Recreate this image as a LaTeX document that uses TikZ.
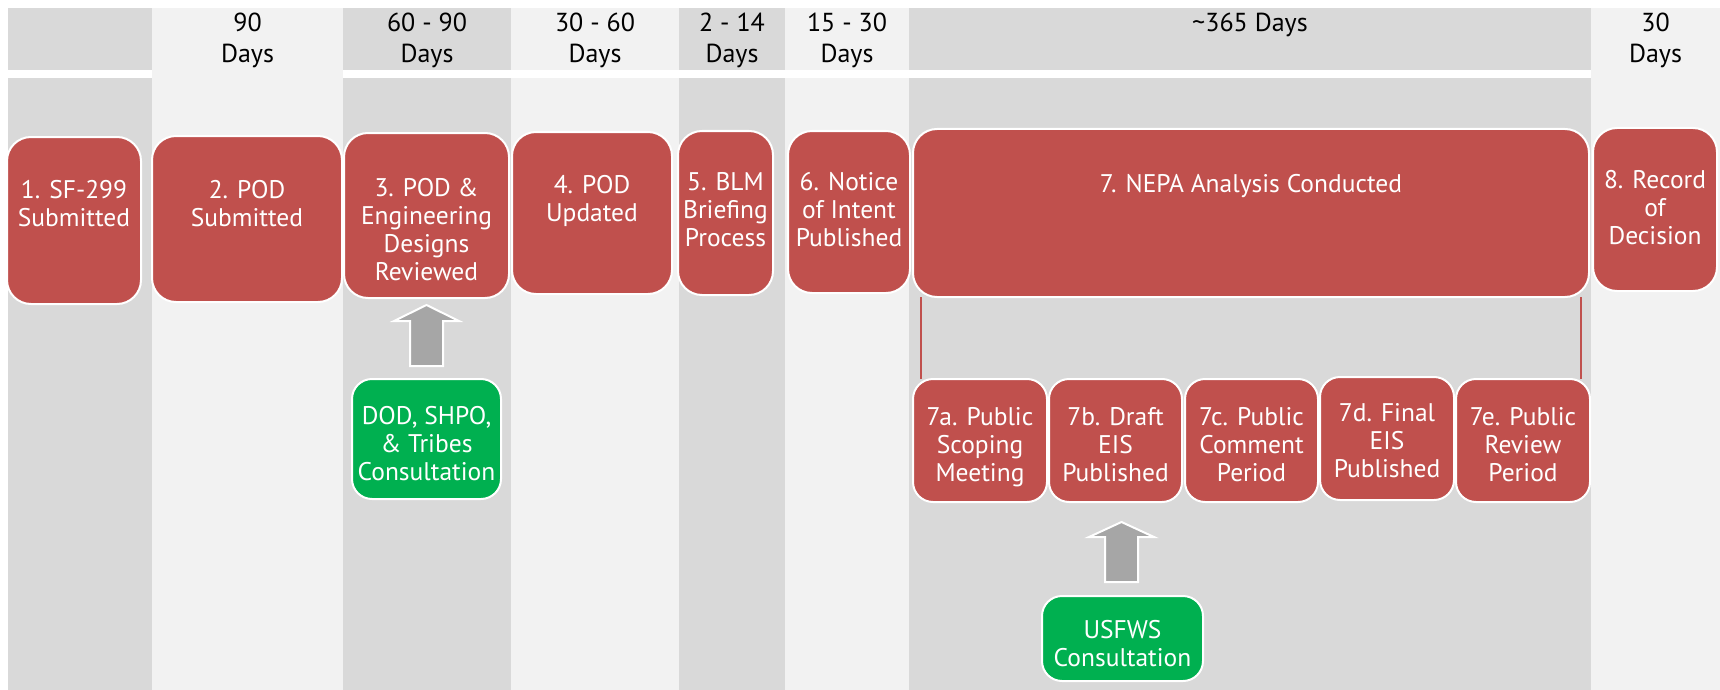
\documentclass[tikz,border=0pt]{standalone}
\usepackage{fontspec}
\setmainfont{PT Sans}
\usetikzlibrary{calc}
\definecolor{cdark}{HTML}{D9D9D9}
\definecolor{clight}{HTML}{F2F2F2}
\definecolor{cred}{HTML}{C0504D}
\definecolor{cgreen}{HTML}{00B050}
\definecolor{carrow}{HTML}{A6A6A6}
% width, height, top pad, text
\newcommand\tbx[4]{\parbox[c][#2pt][t]{#1pt}{\centering\vspace*{#3pt}\strut #4}}
\tikzset{
  rbox/.style={draw=white, line width=2pt, fill=cred, rounded corners=24pt, text=white,
    inner sep=0pt, outer sep=0pt, font=\fontsize{25.5}{28}\selectfont},
  sbox/.style={rbox, rounded corners=20pt},
  gbox/.style={rbox, fill=cgreen, rounded corners=20pt},
  hdr/.style={inner sep=0pt, text=black, font=\fontsize{26}{31}\selectfont},
  link/.style={draw=cred, line width=1.5pt},
  barrow/.style={fill=carrow, draw=white, line width=2pt, line join=miter},
}
\begin{document}
\begin{tikzpicture}[x=1pt, y=-1pt]
\useasboundingbox (0,0) rectangle (1720,690);
\fill[white] (0,0) rectangle (1720,690);
% columns
\fill[cdark]  (8,8)    rectangle (152,690);
\fill[clight] (152,8)  rectangle (343,690);
\fill[cdark]  (343,8)  rectangle (511,690);
\fill[clight] (511,8)  rectangle (679,690);
\fill[cdark]  (679,8)  rectangle (785,690);
\fill[clight] (785,8)  rectangle (909,690);
\fill[cdark]  (909,8)  rectangle (1591,690);
\fill[clight] (1591,8) rectangle (1720,690);
\fill[white] (8,70) rectangle (152,78);
\fill[white] (343,70) rectangle (1591,78);
% headers
\node[hdr] (h2) at (247.5,39) {\tbx{190}{62}{2}{90\\Days}};
\node[hdr] (h3) at (427,39) {\tbx{168}{62}{2}{60 - 90\\Days}};
\node[hdr] (h4) at (595,39) {\tbx{168}{62}{2}{30 - 60\\Days}};
\node[hdr] (h5) at (732,39) {\tbx{106}{62}{2}{2 - 14\\Days}};
\node[hdr] (h6) at (847,39) {\tbx{124}{62}{2}{15 - 30\\Days}};
\node[hdr] (h7) at (1250,39) {\tbx{682}{62}{2}{\textasciitilde 365 Days}};
\node[hdr] (h8) at (1655.5,39) {\tbx{129}{62}{2}{30\\Days}};
% main steps
\node[rbox] (b1) at (74,220.5)   {\tbx{134}{167}{42}{1. SF-299\\Submitted}};
\node[rbox] (b2) at (247,219)    {\tbx{190}{166}{43}{2. POD\\Submitted}};
\node[rbox] (b3) at (426.5,215.5){\tbx{165}{165}{44}{3. POD \&\\Engineering\\Designs\\Reviewed}};
\node[rbox] (b4) at (592,213)    {\tbx{160}{162}{42}{4. POD\\Updated}};
\node[rbox] (b5) at (725.5,213)  {\tbx{95}{164}{40}{5. BLM\\Briefing\\Process}};
\node[rbox] (b6) at (849,212)    {\tbx{122}{162}{40}{6. Notice\\of Intent\\Published}};
\node[rbox] (b7) at (1251,213)   {\tbx{676}{168}{44}{7. NEPA Analysis Conducted}};
\node[rbox] (b8) at (1655,209.5) {\tbx{124}{163}{41}{8. Record\\of\\Decision}};
% sub steps
\node[sbox] (s7a) at (980,440.5)   {\tbx{134}{123}{27}{7a. Public\\Scoping\\Meeting}};
\node[sbox] (s7b) at (1115.5,440.5){\tbx{133}{123}{27}{7b. Draft\\EIS\\Published}};
\node[sbox] (s7c) at (1251.5,440.5){\tbx{133}{123}{27}{7c. Public\\Comment\\Period}};
\node[sbox] (s7d) at (1387,438.5)  {\tbx{134}{123}{25}{7d. Final\\EIS\\Published}};
\node[sbox] (s7e) at (1523,440.5)  {\tbx{134}{123}{27}{7e. Public\\Review\\Period}};
% consultations
\node[gbox] (g1) at (426.5,439)  {\tbx{149}{120}{26}{DOD, SHPO,\\\& Tribes\\Consultation}};
\node[gbox] (g2) at (1122.5,638.5){\tbx{161}{85}{23}{USFWS\\Consultation}};
% links from 7 to sub steps
\coordinate (l1) at ([xshift=8pt]s7a.north west);
\coordinate (l2) at ([xshift=-9pt]s7e.north east);
\draw[link] (l1) -- (l1 |- b7.south);
\draw[link] (l2) -- (l2 |- b7.south);
% block arrows
\coordinate (a1s) at ([yshift=13pt]g1.north);
\coordinate (a1t) at ([yshift=-7pt]b3.south);
\draw[barrow] let \p1=(a1s), \p2=(a1t) in
  (\x1-16.5pt,\y1) -- (\x1-16.5pt,\y2-16pt) -- (\x1-32.5pt,\y2-16pt) -- (\x1,\y2)
  -- (\x1+32.5pt,\y2-16pt) -- (\x1+16.5pt,\y2-16pt) -- (\x1+16.5pt,\y1) -- cycle;
\coordinate (a2s) at ([yshift=14pt,xshift=-1pt]g2.north);
\coordinate (a2t) at ([yshift=-20pt]g2.north |- s7b.south);
\draw[barrow] let \p1=(a2s), \p2=(a2t) in
  (\x1-16.5pt,\y1) -- (\x1-16.5pt,\y2-15pt) -- (\x1-32.5pt,\y2-15pt) -- (\x1,\y2)
  -- (\x1+32.5pt,\y2-15pt) -- (\x1+16.5pt,\y2-15pt) -- (\x1+16.5pt,\y1) -- cycle;
\end{tikzpicture}
\end{document}
